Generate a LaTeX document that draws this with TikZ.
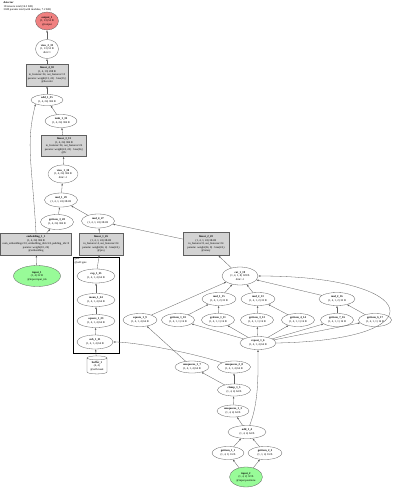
\documentclass[tikz,border=0pt]{standalone}
\usepackage{fontspec}
\setmainfont{Liberation Serif}
\usetikzlibrary{arrows.meta,shapes.geometric}
\definecolor{SoftGray}{RGB}{211,211,211}
\definecolor{SoftRed}{RGB}{240,128,128}
\definecolor{SoftGreen}{RGB}{152,251,152}
\definecolor{EdgeGray}{RGB}{95,95,95}

\begin{document}
\begin{tikzpicture}[x=1pt,y=-1pt,>={Latex[length=2.2pt,width=1.6pt]},
  every node/.style={font=\fontsize{2.8}{3.4}\selectfont,align=center,inner sep=0.5pt},
  op/.style={draw=EdgeGray,ellipse,fill=white,line width=0.3pt,inner sep=0pt,minimum width=33pt,minimum height=13pt},
  layer/.style={draw=EdgeGray,rectangle,fill=SoftGray,line width=0.3pt,minimum width=44pt,minimum height=22pt},
  edge/.style={->,EdgeGray,line width=0.3pt}]
\useasboundingbox[fill=white] (0,0) rectangle (400,488);

% header
\node[anchor=north west,align=left] (title) at (3,1) {\textbf{detector}\\18 tensors total (16.3 KB)\\3049 params total (with modules, 7.2 KB)};

% left column
\node[op,fill=SoftRed,minimum width=23pt,minimum height=18pt] (out1) at (47,21) {\textbf{output\_1}\\(1, 13) 52 B\\@output};
\node[op,minimum width=23pt,minimum height=19pt] (view2) at (47,49) {\textbf{view\_2\_33}\\(1, 13) 52 B\\dim=1};
\node[layer,minimum width=42pt] (lin4) at (47,75) {\textbf{linear\_4\_30}\\(1, 4, 13) 208 B\\in\_features=24, out\_features=13\\params: weight(13, 24) · bias(13,)\\@decoder};
\node[op,minimum width=32pt,minimum height=11pt] (add1) at (47,100) {\textbf{add\_1\_35}\\(1, 4, 24) 384 B};
\node[op,minimum width=32pt] (tanh1) at (61,121) {\textbf{tanh\_1\_32}\\(1, 4, 24) 384 B};
\node[layer,minimum width=45pt,minimum height=21pt] (lin3) at (64,146) {\textbf{linear\_3\_31}\\(1, 4, 24) 384 B\\in\_features=24, out\_features=24\\params: weight(24, 24) · bias(24,)\\@fc};
\node[op,minimum width=30pt,minimum height=18pt] (view1) at (63,174) {\textbf{view\_1\_30}\\(1, 4, 24) 384 B\\dim=-1};
\node[op,minimum height=14pt] (mul1) at (61,200) {\textbf{mul\_1\_29}\\(1, 4, 1, 24) 384 B};
\node[op,minimum height=15pt] (gi3) at (57,222) {\textbf{getitem\_3\_28}\\(1, 4, 24) 384 B};
\node[op,minimum height=14pt] (mul4) at (98,221) {\textbf{mul\_4\_27}\\(1, 4, 1, 24) 384 B};
\node[layer,minimum width=71pt] (emb) at (36,244) {\textbf{embedding\_1\_1}\\(1, 4, 24) 384 B\\num\_embeddings=10, embedding\_dim=24, padding\_idx=0\\params: weight(10, 24)\\@embedding};
\node[op,fill=SoftGreen,minimum width=47pt,minimum height=21pt] (in1) at (37,276) {\textbf{input\_1}\\(1, 4) 32 B\\@input.input\_ids};
\node[layer] (lin1) at (101,244) {\textbf{linear\_1\_26}\\(1, 4, 1, 24) 384 B\\in\_features=4, out\_features=24\\params: weight(24, 4) · bias(24,)\\@proj};
\node[layer,minimum width=46pt,minimum height=23pt] (lin2) at (206,244) {\textbf{linear\_2\_20}\\(1, 4, 1, 24) 384 B\\in\_features=8, out\_features=24\\params: weight(24, 8) · bias(24,)\\@rotary};

% gate module
\draw[line width=1pt] (73,257) rectangle (119,353);
\node[anchor=north west,align=left] (gatelbl) at (74,257.5) {gate\\@self.gate};
\node[op,minimum width=38pt,minimum height=14pt] (exp1) at (96,276) {\textbf{exp\_1\_25}\\(1, 4, 1, 4) 64 B};
\node[op,minimum width=38pt] (mean1) at (96,300) {\textbf{mean\_1\_24}\\(1, 4, 1, 4) 64 B};
\node[op,minimum width=38pt] (sq2) at (96,321) {\textbf{square\_1\_23}\\(1, 4, 1, 4) 64 B};
\node[op,minimum width=36pt,minimum height=14pt] (sub1) at (95,342) {\textbf{sub\_1\_21}\\(1, 4, 1, 4) 64 B};
\node[cylinder,shape border rotate=90,aspect=0.3,draw=EdgeGray,fill=white,line width=0.3pt,minimum width=20pt,minimum height=18pt,inner sep=0pt] (buf1) at (97,366) {\textbf{buffer\_1}\\(4, 4)\\@self.mask};

% rotary part
\node[op,minimum width=34pt] (sq1) at (140,320) {\textbf{square\_1\_9}\\(1, 4, 1, 4) 64 B};
\node[op] (gi10) at (178,320) {\textbf{getitem\_1\_10}\\(1, 4, 1, 1) 16 B};
\node[op] (gi11) at (218,320) {\textbf{getitem\_1\_11}\\(1, 4, 1, 1) 16 B};
\node[op] (gi12) at (257,320) {\textbf{getitem\_3\_12}\\(1, 4, 1, 1) 16 B};
\node[op] (gi14) at (298,320) {\textbf{getitem\_4\_14}\\(1, 4, 1, 1) 16 B};
\node[op] (gi16) at (337,320) {\textbf{getitem\_7\_16}\\(1, 4, 1, 1) 16 B};
\node[op] (gi17) at (375,320) {\textbf{getitem\_6\_17}\\(1, 4, 1, 1) 16 B};
\node[op,minimum width=34pt] (mul15) at (219,299) {\textbf{mul\_1\_15}\\(1, 4, 1, 2) 32 B};
\node[op,minimum width=34pt] (mul13) at (258,299) {\textbf{mul\_2\_13}\\(1, 4, 1, 2) 32 B};
\node[op,minimum width=36pt] (mul16) at (337,299) {\textbf{mul\_2\_16}\\(1, 4, 1, 2) 32 B};
\node[op,minimum width=36pt,minimum height=18pt] (cat1) at (240,276) {\textbf{cat\_1\_19}\\(1, 4, 1, 8) 128 B\\dim=-1};
\node[op,minimum width=36pt] (rep1) at (258,343) {\textbf{repeat\_1\_6}\\(1, 4, 1, 4) 64 B};
\node[op,minimum width=34pt,minimum height=12pt] (unsq7) at (192,367) {\textbf{unsqueeze\_1\_7}\\(1, 4, 1, 4) 64 B};
\node[op,minimum height=12pt] (unsq8) at (234,367) {\textbf{unsqueeze\_2\_8}\\(1, 4, 1, 4) 64 B};
\node[op,minimum height=12pt] (clamp1) at (234,390) {\textbf{clamp\_1\_5}\\(1, 4, 4) 64 B};
\node[op,minimum width=32pt,minimum height=12pt] (unsq3) at (233,411) {\textbf{unsqueeze\_1\_3}\\(1, 4, 4) 64 B};
\node[op,minimum width=38pt] (add4) at (247,432) {\textbf{add\_1\_4}\\(1, 4, 4) 64 B};
\node[op,minimum width=32pt] (gi1) at (228,453) {\textbf{getitem\_1\_1}\\(1, 4, 1) 16 B};
\node[op,minimum width=34pt] (gi2) at (265,453) {\textbf{getitem\_2\_2}\\(1, 1, 4) 16 B};
\node[op,fill=SoftGreen,minimum width=33pt,minimum height=20pt] (in2) at (246,477) {\textbf{input\_2}\\(1, 4, 2) 32 B\\@input.positions};

% edges
\draw[edge] (in2) -- (gi1);
\draw[edge] (in2) -- (gi2);
\draw[edge] (gi1) -- (add4);
\draw[edge] (gi2) -- (add4);
\draw[edge] (add4) -- (unsq3);
\draw[edge] (add4) .. controls +(12,-30) and +(0,30) .. (rep1);
\draw[edge] (unsq3) -- (clamp1);
\draw[edge] (clamp1) -- (unsq7);
\draw[edge] (clamp1) -- (unsq8);
\draw[edge] (unsq8) .. controls +(-40,-14) and +(40,0) .. (sub1);
\draw[edge] (unsq7) -- (sq1);
\draw[edge] (rep1) -- (gi10);
\draw[edge] (rep1) -- (gi11);
\draw[edge] (rep1) -- (gi12);
\draw[edge] (rep1) -- (gi14);
\draw[edge] (rep1) -- (gi16);
\draw[edge] (rep1) -- (gi17);
\draw[edge] (rep1.east) .. controls +(164,-3) and +(162,0) .. (cat1.east);
\draw[edge] (gi10) -- (mul15);
\draw[edge] (gi11) -- (mul15);
\draw[edge] (gi12) -- (mul13);
\draw[edge] (gi14) -- (mul13);
\draw[edge] (gi16) -- (mul16);
\draw[edge] (gi17) -- (mul16);
\draw[edge] (sq1) -- (cat1);
\draw[edge] (mul15) -- (cat1);
\draw[edge] (mul13) -- (cat1);
\draw[edge] (mul16) -- (cat1);
\draw[edge] (cat1) -- (lin2);
\draw[edge] (buf1) -- (sub1);
\draw[edge] (sub1) -- (sq2);
\draw[edge] (sq2) -- (mean1);
\draw[edge] (mean1) -- (exp1);
\draw[edge] (exp1) -- (lin1);
\draw[edge] (lin1) -- (mul4);
\draw[edge] (lin2) -- (mul4);
\draw[edge] (in1) -- (emb);
\draw[edge] (emb) -- (gi3);
\draw[edge] (emb.north) .. controls +(-4,-70) and +(-10,40) .. (add1.south west);
\draw[edge] (gi3) -- (mul1);
\draw[edge] (mul4) -- (mul1);
\draw[edge] (mul1) -- (view1);
\draw[edge] (view1) -- (lin3);
\draw[edge] (lin3) -- (tanh1);
\draw[edge] (tanh1) -- (add1);
\draw[edge] (add1) -- (lin4);
\draw[edge] (lin4) -- (view2);
\draw[edge] (view2) -- (out1);
\end{tikzpicture}
\end{document}
